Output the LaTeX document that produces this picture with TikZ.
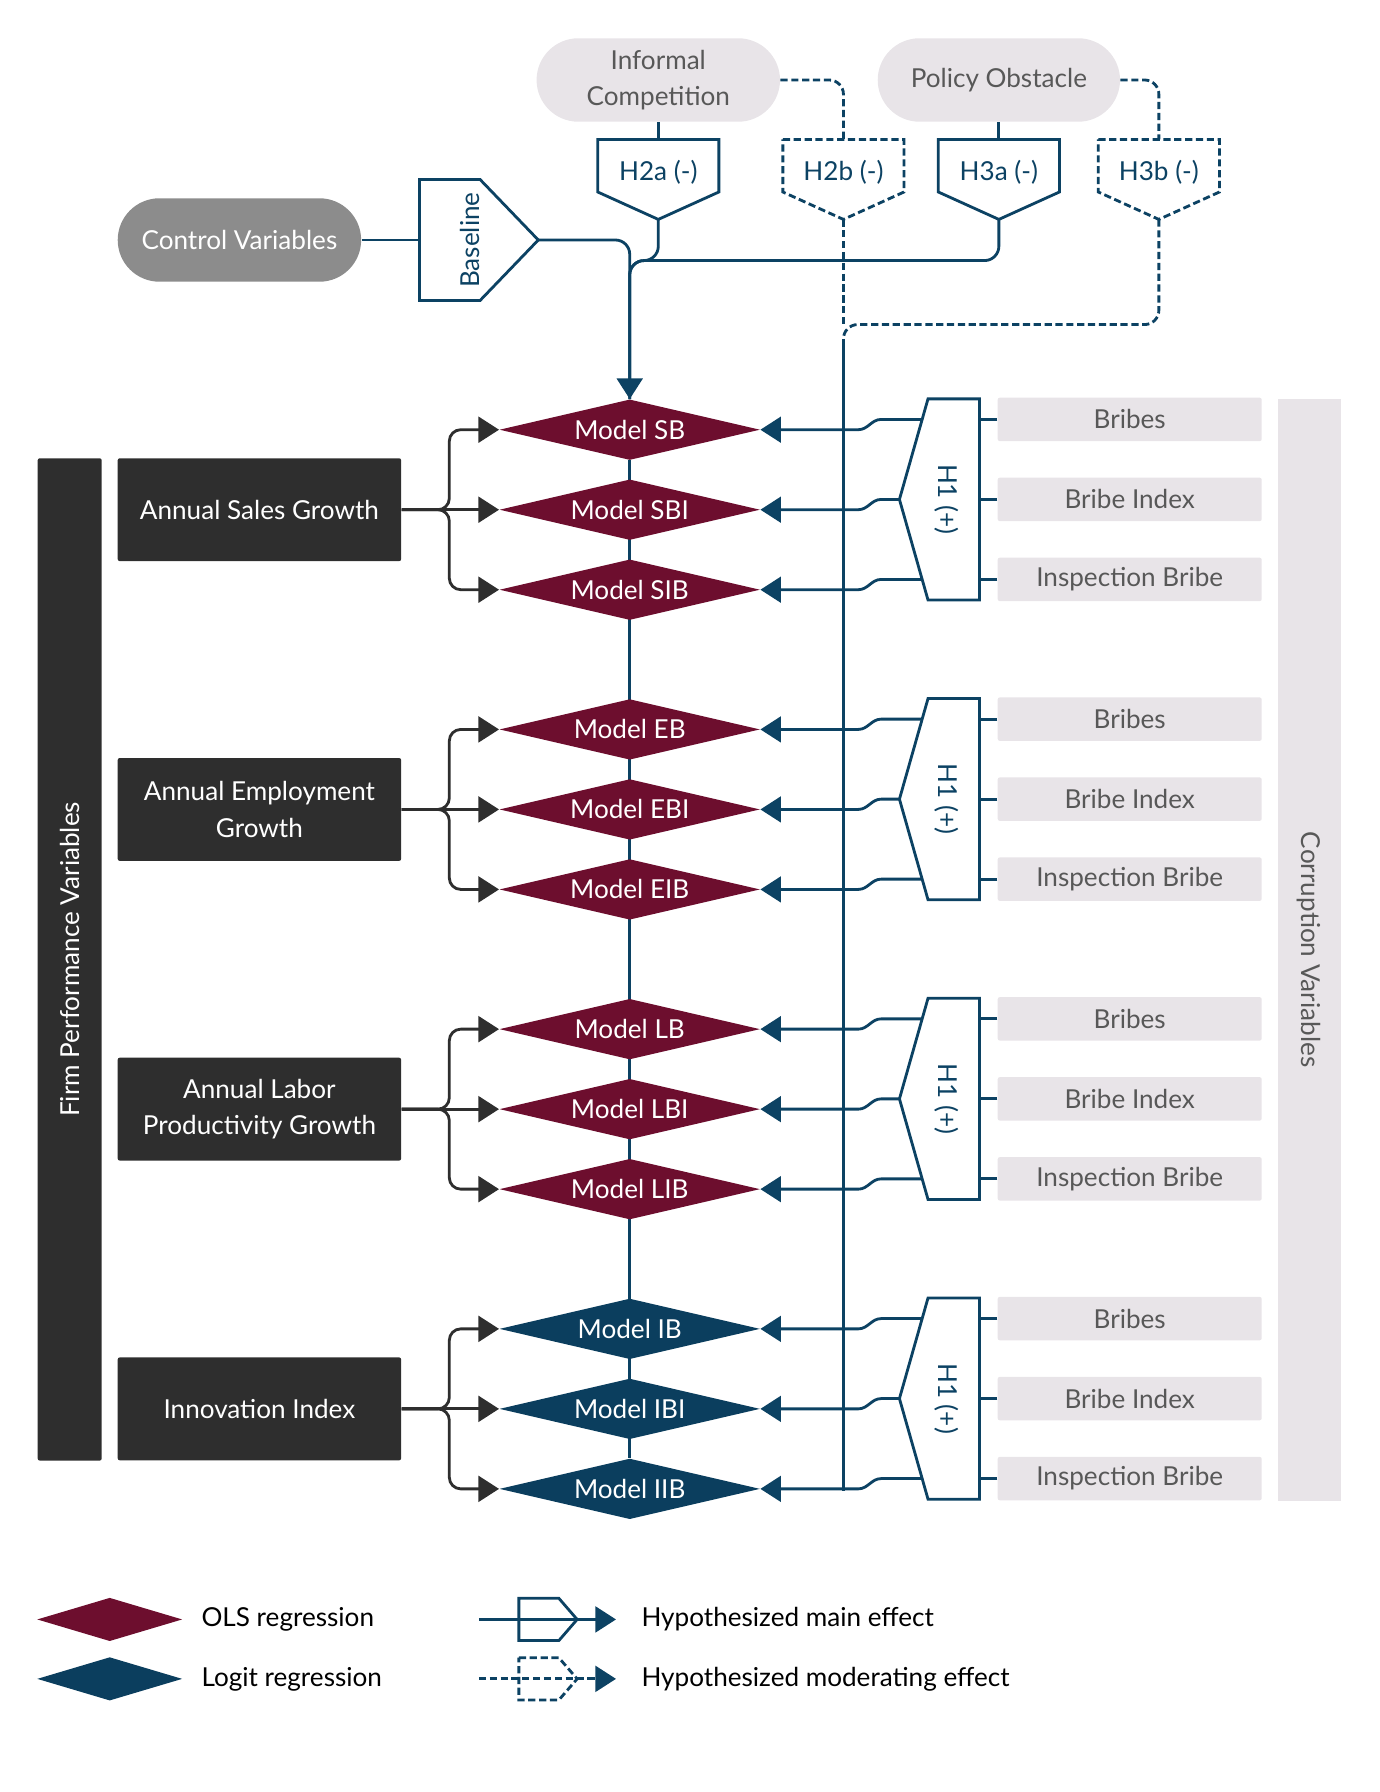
\documentclass[tikz,border=0pt]{standalone}
\usepackage{fontspec}
\setmainfont{Lato}
\usetikzlibrary{shapes.geometric,arrows.meta,backgrounds}

\begin{document}
\begin{tikzpicture}[font=\fontsize{13}{18}\selectfont,
    >={Triangle[length=0.36cm,width=0.45cm]},
    pill/.style={rectangle, rounded corners=0.73cm, fill=paleg, text=textg,
      minimum height=1.46cm, minimum width=4.26cm, align=center, inner sep=0pt},
    model/.style={diamond, aspect=4.3, minimum width=4.56cm,
      minimum height=1.06cm, inner sep=0pt, text=white},
    perfbox/.style={fill=darkbox, text=white, rounded corners=1pt,
      minimum width=4.96cm, minimum height=1.80cm, align=center},
    corrbox/.style={fill=paleg, text=textg, rounded corners=1pt,
      minimum width=4.62cm, minimum height=0.76cm},
    hyptext/.style={text=linkblue, inner sep=0pt},
    legtext/.style={anchor=west, inner sep=0pt},
    hypline/.style={draw=linkblue, line width=1.4pt},
    modline/.style={hypline, dash pattern=on 3.6pt off 1.8pt},
    perfline/.style={draw=darkbox, line width=1.4pt, rounded corners=0.2cm}
  ]
    \definecolor{olsred}{RGB}{109,14,46}
    \definecolor{logitblue}{RGB}{11,62,94}
    \definecolor{linkblue}{RGB}{12,66,99}
    \definecolor{darkbox}{RGB}{46,46,46}
    \definecolor{ctrlgray}{RGB}{140,140,140}
    \definecolor{paleg}{RGB}{232,228,232}
    \definecolor{textg}{RGB}{88,88,88}

    \useasboundingbox (0,0) rectangle (24.14,-31.36);

    \node[pill] (infcomp) at (11.52,-1.40) {Informal\\Competition};
    \node[pill, minimum width=4.24cm] (policy) at (17.48,-1.40) {Policy Obstacle};
    \node[pill, fill=ctrlgray, text=white] (ctrl) at (4.19,-4.20) {Control Variables};

    \foreach \n/\x/\t/\s in {
      h2a/11.52/H2a (-)/hypline,
      h2b/14.76/H2b (-)/modline,
      h3a/17.48/H3a (-)/hypline,
      h3b/20.28/H3b (-)/modline}{
      \node[hyptext] (\n) at (\x,-3.02) {\t};
      \draw[\s] (\n) ++(-1.06,0.58) -- ++(2.12,0) -- ++(0,-0.92) -- ++(-1.06,-0.48) -- ++(-1.06,0.48) -- cycle;
      \coordinate (\n-in) at (\x,-2.44);
      \coordinate (\n-out) at (\x,-3.84);
    }

    \node[hyptext, rotate=90] (base) at (8.22,-4.20) {Baseline};
    \draw[hypline] (base) ++(-0.88,1.06) -- ++(1.06,0) -- ++(1.02,-1.06) -- ++(-1.02,-1.06) -- ++(-1.06,0) -- cycle;
    \coordinate (base-in) at (7.34,-4.20);
    \coordinate (base-out) at (9.42,-4.20);

    \node[fill=darkbox, text=white, rotate=90, rounded corners=1pt,
      minimum width=17.54cm, minimum height=1.12cm] (firmbar) at (1.22,-16.79) {Firm Performance Variables};
    \node[fill=paleg, text=textg, rotate=-90,
      minimum width=19.28cm, minimum height=1.10cm] (corrbar) at (22.91,-16.62) {Corruption Variables};

    \foreach \gi/\grp/\fc/\lbl in {
      0/S/olsred/Annual Sales Growth,
      1/E/olsred/{Annual Employment\\Growth},
      2/L/olsred/{Annual Labor\\Productivity Growth},
      3/I/logitblue/Innovation Index}{
      \pgfmathsetmacro\ym{-8.74-5.245*\gi}
      \node[hyptext, rotate=-90] (h1-\grp) at (16.56,\ym) {H1 (+)};
      \draw[hypline] (h1-\grp) ++(-0.32,1.76) -- ++(0.90,0) -- ++(0,-3.52) -- ++(-0.90,0) -- ++(-0.50,1.76) -- cycle;
      \foreach \rw/\dy/\bx/\nm/\mdl in {
        a/1.40/16.14/Bribes/B,
        b/0/15.74/Bribe Index/BI,
        c/-1.40/16.14/Inspection Bribe/IB}{
        \pgfmathsetmacro\yr{\ym+\dy}
        \pgfmathsetmacro\yd{\yr-0.18}
        \node[model, fill=\fc] (\grp\mdl) at (11.02,\yd) {Model \grp\mdl};
        \coordinate (h1-\grp-\rw) at (\bx,\yr);
        \coordinate (h1-\grp-\rw-r) at (17.14,\yr);
        \node[corrbox] (cv-\grp-\rw) at (19.77,\yr) {\nm};
        \draw[hypline] (cv-\grp-\rw.west) -- (h1-\grp-\rw-r);
        \draw[hypline, ->] (h1-\grp-\rw) -- (15.42,\yr) to[out=180, in=0] (15.02,\yd) -- (\grp\mdl.east);
      }
      \node[perfbox] (perf-\grp) at (4.54,\ym-0.18) {\lbl};
      \draw[perfline, ->] (perf-\grp.east) -| ([xshift=-0.87cm]\grp B.west) -- (\grp B.west);
      \draw[perfline, ->] (perf-\grp.east) -- (\grp BI.west);
      \draw[perfline, ->] (perf-\grp.east) -| ([xshift=-0.87cm]\grp IB.west) -- (\grp IB.west);
    }

    \begin{pgfonlayer}{background}
      \draw[hypline] (SB) -- (IIB);
    \end{pgfonlayer}

    \draw[hypline] (infcomp.south) -- (h2a-in);
    \draw[hypline] (policy.south) -- (h3a-in);
    \draw[modline, rounded corners=0.25cm] (infcomp.east) -| (h2b-in);
    \draw[modline, rounded corners=0.25cm] (policy.east) -| (h3b-in);
    \draw[hypline] (ctrl.east) -- (base-in);
    \draw[hypline, ->, rounded corners=0.25cm] (base-out) -| (SB.north);
    \draw[hypline, rounded corners=0.25cm] (h2a-out) |- (11.02,-4.56) -- (SB.north);
    \draw[hypline, rounded corners=0.25cm] (h3a-out) |- (11.02,-4.56) -- (SB.north);

    \coordinate (modjoin) at (14.76,-5.68);
    \coordinate (modend) at (14.76,-26.10);
    \draw[modline] (h2b-out) -- (modjoin);
    \draw[modline, rounded corners=0.25cm] (h3b-out) |- (modjoin) -- ([yshift=-0.3cm]modjoin);
    \draw[hypline] ([yshift=-0.25cm]modjoin) -- (modend);

    \node[diamond, aspect=3.3, fill=olsred, minimum width=2.54cm, minimum height=0.76cm, inner sep=0pt] (leg-ols) at (1.92,-28.34) {};
    \node[legtext] (leg-ols-t) at (3.52,-28.34) {OLS regression};
    \node[diamond, aspect=3.3, fill=logitblue, minimum width=2.54cm, minimum height=0.76cm, inner sep=0pt] (leg-logit) at (1.92,-29.38) {};
    \node[legtext] (leg-logit-t) at (3.52,-29.38) {Logit regression};

    \foreach \k/\y/\s/\t in {main/-28.34/hypline/Hypothesized main effect, mod/-29.38/modline/Hypothesized moderating effect}{
      \coordinate (leg-\k-a) at (8.38,\y);
      \coordinate (leg-\k-b) at (10.78,\y);
      \draw[\s, ->] (leg-\k-a) -- (leg-\k-b);
      \draw[\s] (leg-\k-a) ++(0.70,0.37) -- ++(0.70,0) -- ++(0.32,-0.37) -- ++(-0.32,-0.37) -- ++(-0.70,0) -- cycle;
      \node[legtext] (leg-\k-t) at (11.22,\y) {\t};
    }
  \end{tikzpicture}
\end{document}
